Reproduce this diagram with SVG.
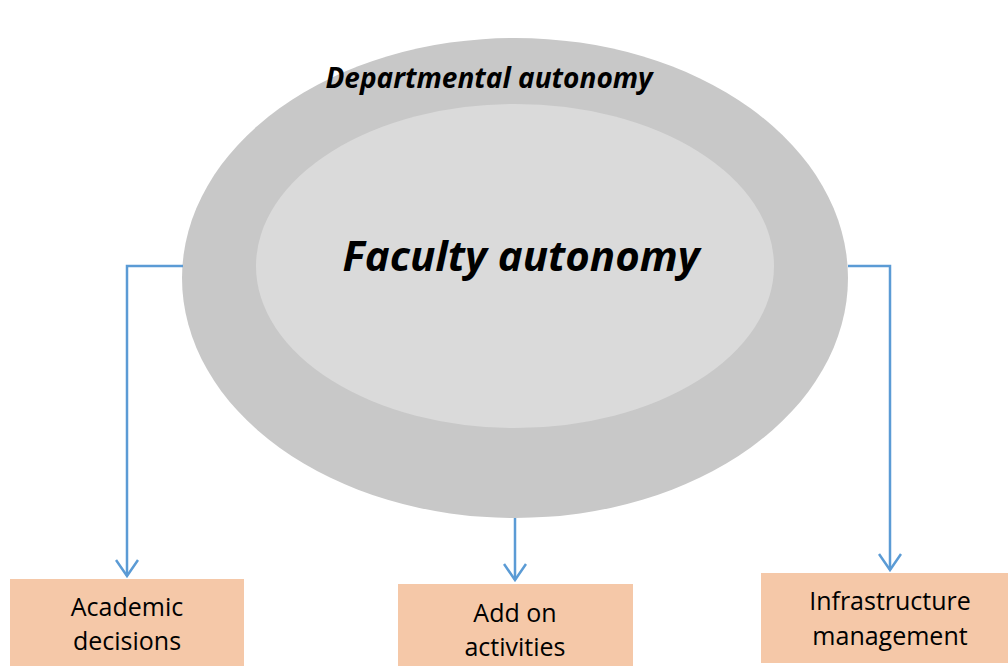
<svg xmlns="http://www.w3.org/2000/svg" width="1008" height="666" viewBox="0 0 1008 666">
<style>
.conn{fill:none;stroke:#5B9BD5;stroke-width:2.5}
.box{fill:#F5C8A8}
.lbl{font-family:"Open Sans","Liberation Sans",sans-serif;font-size:25px;fill:#000;text-anchor:middle}
.title{font-family:"Open Sans","Liberation Sans",sans-serif;font-weight:bold;font-style:italic;fill:#000;text-anchor:middle}
</style>
<defs>
<marker id="arr" viewBox="0 0 20 24" refX="18" refY="12" markerWidth="20" markerHeight="24" markerUnits="userSpaceOnUse" orient="auto">
<path d="M2,1 L18,12 L2,23" fill="none" stroke="#5B9BD5" stroke-width="2.5"/>
</marker>
</defs>
<rect width="1008" height="666" fill="#fff"/>
<g id="departmental">
<ellipse cx="515" cy="278" rx="333" ry="240" fill="#C8C8C8"/>
<text class="title" x="489" y="88" font-size="28">Departmental autonomy</text>
</g>
<g id="faculty">
<ellipse cx="515" cy="266" rx="259" ry="162" fill="#DADADA"/>
<text class="title" x="521" y="271" font-size="42">Faculty autonomy</text>
</g>
<g id="connectors">
<path class="conn" d="M183,266 H127 V576" marker-end="url(#arr)"/>
<path class="conn" d="M515,518 V580" marker-end="url(#arr)"/>
<path class="conn" d="M848,266 H890 V570" marker-end="url(#arr)"/>
</g>
<g id="academic">
<rect class="box" x="10" y="579" width="234" height="87"/>
<text class="lbl" x="127" y="616">Academic</text>
<text class="lbl" x="127" y="650">decisions</text>
</g>
<g id="addon">
<rect class="box" x="398" y="584" width="235" height="82"/>
<text class="lbl" x="515" y="622">Add on</text>
<text class="lbl" x="515" y="656">activities</text>
</g>
<g id="infrastructure">
<rect class="box" x="761" y="573" width="247" height="90"/>
<text class="lbl" x="890" y="610">Infrastructure</text>
<text class="lbl" x="890" y="645">management</text>
</g>
</svg>
